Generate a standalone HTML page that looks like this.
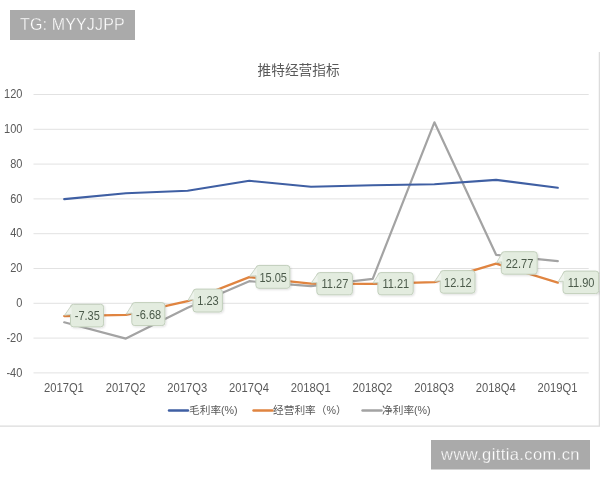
<!DOCTYPE html>
<html><head><meta charset="utf-8"><title>chart</title>
<style>
html,body{margin:0;padding:0;background:#fff;}
body{width:600px;height:480px;overflow:hidden;position:relative;font-family:"Liberation Sans","Noto Sans CJK SC",sans-serif;}
svg{position:absolute;left:0;top:0;display:block}
text{font-family:"Liberation Sans","Noto Sans CJK SC",sans-serif;}
.ax{font-size:12px;fill:#5a5a5a}
.lb{font-size:12.7px;fill:#4b5a4a}
.lg{font-size:10.7px;fill:#5a5a5a}
</style></head><body>
<svg width="600" height="480" viewBox="0 0 600 480">
<defs><filter id="sh" x="-20%" y="-20%" width="150%" height="160%"><feGaussianBlur in="SourceAlpha" stdDeviation="1"/><feOffset dx="0.8" dy="1"/><feComponentTransfer><feFuncA type="linear" slope="0.13"/></feComponentTransfer><feMerge><feMergeNode/><feMergeNode in="SourceGraphic"/></feMerge></filter></defs>
<rect x="0" y="0" width="600" height="480" fill="#fff"/>
<path d="M599.4 52V426.2H0" fill="none" stroke="#dcdcdc" stroke-width="1.3"/>

<line x1="33.5" x2="588.7" y1="94.5" y2="94.5" stroke="#e2e2e2" stroke-width="1"/>
<g transform="translate(22.4,98.2) scale(0.92,1)"><text class="ax" text-anchor="end">120</text></g>
<line x1="33.5" x2="588.7" y1="129.3" y2="129.3" stroke="#e2e2e2" stroke-width="1"/>
<g transform="translate(22.4,133.0) scale(0.92,1)"><text class="ax" text-anchor="end">100</text></g>
<line x1="33.5" x2="588.7" y1="164.1" y2="164.1" stroke="#e2e2e2" stroke-width="1"/>
<g transform="translate(22.4,167.8) scale(0.92,1)"><text class="ax" text-anchor="end">80</text></g>
<line x1="33.5" x2="588.7" y1="198.9" y2="198.9" stroke="#e2e2e2" stroke-width="1"/>
<g transform="translate(22.4,202.6) scale(0.92,1)"><text class="ax" text-anchor="end">60</text></g>
<line x1="33.5" x2="588.7" y1="233.7" y2="233.7" stroke="#e2e2e2" stroke-width="1"/>
<g transform="translate(22.4,237.4) scale(0.92,1)"><text class="ax" text-anchor="end">40</text></g>
<line x1="33.5" x2="588.7" y1="268.5" y2="268.5" stroke="#e2e2e2" stroke-width="1"/>
<g transform="translate(22.4,272.2) scale(0.92,1)"><text class="ax" text-anchor="end">20</text></g>
<line x1="33.5" x2="588.7" y1="303.3" y2="303.3" stroke="#e2e2e2" stroke-width="1"/>
<g transform="translate(22.4,307.0) scale(0.92,1)"><text class="ax" text-anchor="end">0</text></g>
<line x1="33.5" x2="588.7" y1="338.1" y2="338.1" stroke="#e2e2e2" stroke-width="1"/>
<g transform="translate(22.4,341.8) scale(0.92,1)"><text class="ax" text-anchor="end">-20</text></g>
<line x1="33.5" x2="588.7" y1="372.9" y2="372.9" stroke="#e2e2e2" stroke-width="1"/>
<g transform="translate(22.4,376.6) scale(0.92,1)"><text class="ax" text-anchor="end">-40</text></g>
<g transform="translate(63.9,391.6) scale(0.935,1)"><text class="ax" text-anchor="middle">2017Q1</text></g>
<g transform="translate(125.6,391.6) scale(0.935,1)"><text class="ax" text-anchor="middle">2017Q2</text></g>
<g transform="translate(187.3,391.6) scale(0.935,1)"><text class="ax" text-anchor="middle">2017Q3</text></g>
<g transform="translate(249.0,391.6) scale(0.935,1)"><text class="ax" text-anchor="middle">2017Q4</text></g>
<g transform="translate(310.7,391.6) scale(0.935,1)"><text class="ax" text-anchor="middle">2018Q1</text></g>
<g transform="translate(372.4,391.6) scale(0.935,1)"><text class="ax" text-anchor="middle">2018Q2</text></g>
<g transform="translate(434.1,391.6) scale(0.935,1)"><text class="ax" text-anchor="middle">2018Q3</text></g>
<g transform="translate(495.8,391.6) scale(0.935,1)"><text class="ax" text-anchor="middle">2018Q4</text></g>
<g transform="translate(557.5,391.6) scale(0.935,1)"><text class="ax" text-anchor="middle">2019Q1</text></g>
<text x="298.6" y="74.5" text-anchor="middle" font-size="13.7" fill="#595959">推特经营指标</text>
<polyline points="64.2,322.3 125.9,338.6 187.6,307.7 249.3,281.2 311.0,286.2 372.7,278.9 434.4,122.3 496.1,254.8 557.8,261.2" fill="none" stroke="#a3a3a3" stroke-width="2.2" stroke-linejoin="round" stroke-linecap="round"/>
<polyline points="64.2,316.1 125.9,314.9 187.6,301.2 249.3,277.1 311.0,283.7 372.7,283.8 434.4,282.2 496.1,263.7 557.8,282.6" fill="none" stroke="#e08440" stroke-width="2.3" stroke-linejoin="round" stroke-linecap="round"/>
<polyline points="64.2,199.1 125.9,193.3 187.6,190.7 249.3,180.8 311.0,186.7 372.7,185.3 434.4,184.3 496.1,179.9 557.8,187.8" fill="none" stroke="#3f5fa3" stroke-width="2.1" stroke-linejoin="round" stroke-linecap="round"/>
<g filter="url(#sh)"><path d="M73.5 304.3H100.6Q103.6 304.3 103.6 307.3V323.9Q103.6 326.9 100.6 326.9H73.5Q70.5 326.9 70.5 323.9V307.3Q70.5 304.3 73.5 304.3Z" fill="#e3ecdf" stroke="#c2cfbc" stroke-width="1"/><path d="M70.8 314.5L64.6 315.2L71.4 305.5L71.7 314.5Z" fill="#eef3ec"/><path d="M70.8 314.5L64.6 315.2L71.4 305.5" fill="none" stroke="#c5d0c0" stroke-width="0.9" stroke-linejoin="round"/></g>
<g transform="translate(87.3,320.2) scale(0.87,1)"><text class="lb" text-anchor="middle">-7.35</text></g>
<g filter="url(#sh)"><path d="M134.8 302.6H161.9Q164.9 302.6 164.9 305.6V322.6Q164.9 325.6 161.9 325.6H134.8Q131.8 325.6 131.8 322.6V305.6Q131.8 302.6 134.8 302.6Z" fill="#e3ecdf" stroke="#c2cfbc" stroke-width="1"/><path d="M132.1 313.0L126.3 314.0L132.7 303.8L132.9 313.0Z" fill="#eef3ec"/><path d="M132.1 313.0L126.3 314.0L132.7 303.8" fill="none" stroke="#c5d0c0" stroke-width="0.9" stroke-linejoin="round"/></g>
<g transform="translate(148.6,318.7) scale(0.87,1)"><text class="lb" text-anchor="middle">-6.68</text></g>
<g filter="url(#sh)"><path d="M196.0 289.1H219.4Q222.4 289.1 222.4 292.1V309.0Q222.4 312.0 219.4 312.0H196.0Q193.0 312.0 193.0 309.0V292.1Q193.0 289.1 196.0 289.1Z" fill="#e3ecdf" stroke="#c2cfbc" stroke-width="1"/><path d="M193.3 299.4L188.0 300.3L193.9 290.3L194.2 299.4Z" fill="#eef3ec"/><path d="M193.3 299.4L188.0 300.3L193.9 290.3" fill="none" stroke="#c5d0c0" stroke-width="0.9" stroke-linejoin="round"/></g>
<g transform="translate(208.0,305.1) scale(0.87,1)"><text class="lb" text-anchor="middle">1.23</text></g>
<g filter="url(#sh)"><path d="M258.9 265.4H286.9Q289.9 265.4 289.9 268.4V285.3Q289.9 288.3 286.9 288.3H258.9Q255.9 288.3 255.9 285.3V268.4Q255.9 265.4 258.9 265.4Z" fill="#e3ecdf" stroke="#c2cfbc" stroke-width="1"/><path d="M256.2 275.7L249.7 276.2L256.8 266.6L257.1 275.7Z" fill="#eef3ec"/><path d="M256.2 275.7L249.7 276.2L256.8 266.6" fill="none" stroke="#c5d0c0" stroke-width="0.9" stroke-linejoin="round"/></g>
<g transform="translate(273.2,281.5) scale(0.87,1)"><text class="lb" text-anchor="middle">15.05</text></g>
<g filter="url(#sh)"><path d="M319.8 272.6H349.4Q352.4 272.6 352.4 275.6V291.8Q352.4 294.8 349.4 294.8H319.8Q316.8 294.8 316.8 291.8V275.6Q316.8 272.6 319.8 272.6Z" fill="#e3ecdf" stroke="#c2cfbc" stroke-width="1"/><path d="M317.1 282.6L311.4 282.8L317.6 273.8L317.9 282.6Z" fill="#eef3ec"/><path d="M317.1 282.6L311.4 282.8L317.6 273.8" fill="none" stroke="#c5d0c0" stroke-width="0.9" stroke-linejoin="round"/></g>
<g transform="translate(334.9,288.3) scale(0.87,1)"><text class="lb" text-anchor="middle">11.27</text></g>
<g filter="url(#sh)"><path d="M380.9 272.6H410.2Q413.2 272.6 413.2 275.6V291.8Q413.2 294.8 410.2 294.8H380.9Q377.9 294.8 377.9 291.8V275.6Q377.9 272.6 380.9 272.6Z" fill="#e3ecdf" stroke="#c2cfbc" stroke-width="1"/><path d="M378.2 282.6L373.1 282.9L378.8 273.8L379.1 282.6Z" fill="#eef3ec"/><path d="M378.2 282.6L373.1 282.9L378.8 273.8" fill="none" stroke="#c5d0c0" stroke-width="0.9" stroke-linejoin="round"/></g>
<g transform="translate(395.8,288.3) scale(0.87,1)"><text class="lb" text-anchor="middle">11.21</text></g>
<g filter="url(#sh)"><path d="M443.2 270.6H472.0Q475.0 270.6 475.0 273.6V290.2Q475.0 293.2 472.0 293.2H443.2Q440.2 293.2 440.2 290.2V273.6Q440.2 270.6 443.2 270.6Z" fill="#e3ecdf" stroke="#c2cfbc" stroke-width="1"/><path d="M440.5 280.8L434.8 281.3L441.1 271.8L441.4 280.8Z" fill="#eef3ec"/><path d="M440.5 280.8L434.8 281.3L441.1 271.8" fill="none" stroke="#c5d0c0" stroke-width="0.9" stroke-linejoin="round"/></g>
<g transform="translate(457.9,286.5) scale(0.87,1)"><text class="lb" text-anchor="middle">12.12</text></g>
<g filter="url(#sh)"><path d="M504.3 251.7H534.2Q537.2 251.7 537.2 254.7V271.2Q537.2 274.2 534.2 274.2H504.3Q501.3 274.2 501.3 271.2V254.7Q501.3 251.7 504.3 251.7Z" fill="#e3ecdf" stroke="#c2cfbc" stroke-width="1"/><path d="M501.6 261.8L496.5 262.8L502.2 252.8L502.5 261.8Z" fill="#eef3ec"/><path d="M501.6 261.8L496.5 262.8L502.2 252.8" fill="none" stroke="#c5d0c0" stroke-width="0.9" stroke-linejoin="round"/></g>
<g transform="translate(519.5,267.5) scale(0.87,1)"><text class="lb" text-anchor="middle">22.77</text></g>
<g filter="url(#sh)"><path d="M566.0 271.1H595.7Q598.7 271.1 598.7 274.1V290.6Q598.7 293.6 595.7 293.6H566.0Q563.0 293.6 563.0 290.6V274.1Q563.0 271.1 566.0 271.1Z" fill="#e3ecdf" stroke="#c2cfbc" stroke-width="1"/><path d="M563.3 281.2L558.2 281.7L563.9 272.3L564.2 281.2Z" fill="#eef3ec"/><path d="M563.3 281.2L558.2 281.7L563.9 272.3" fill="none" stroke="#c5d0c0" stroke-width="0.9" stroke-linejoin="round"/></g>
<g transform="translate(581.1,286.9) scale(0.87,1)"><text class="lb" text-anchor="middle">11.90</text></g>
<line x1="169" x2="188" y1="410.5" y2="410.5" stroke="#3f5fa3" stroke-width="2.4" stroke-linecap="round"/>
<text class="lg" x="189" y="414.3">毛利率(%)</text>
<line x1="253.5" x2="272.5" y1="410.5" y2="410.5" stroke="#e08440" stroke-width="2.4" stroke-linecap="round"/>
<text class="lg" x="273" y="414.3">经营利率（%）</text>
<line x1="362.5" x2="381.5" y1="410.5" y2="410.5" stroke="#a3a3a3" stroke-width="2.4" stroke-linecap="round"/>
<text class="lg" x="382" y="414.3">净利率(%)</text>
<rect x="10" y="10" width="125" height="30" fill="#aaaaaa"/>
<text x="20" y="30.2" font-size="16" fill="#fff" stroke="#aaaaaa" stroke-width="0.3" letter-spacing="0.15">TG: MYYJJPP</text>
<rect x="431" y="440" width="159" height="29.5" fill="#aaaaaa"/>
<text x="510.5" y="460" font-size="16.5" fill="#fff" stroke="#aaaaaa" stroke-width="0.3" text-anchor="middle" letter-spacing="0.4">www.gittia.com.cn</text>
</svg></body></html>
